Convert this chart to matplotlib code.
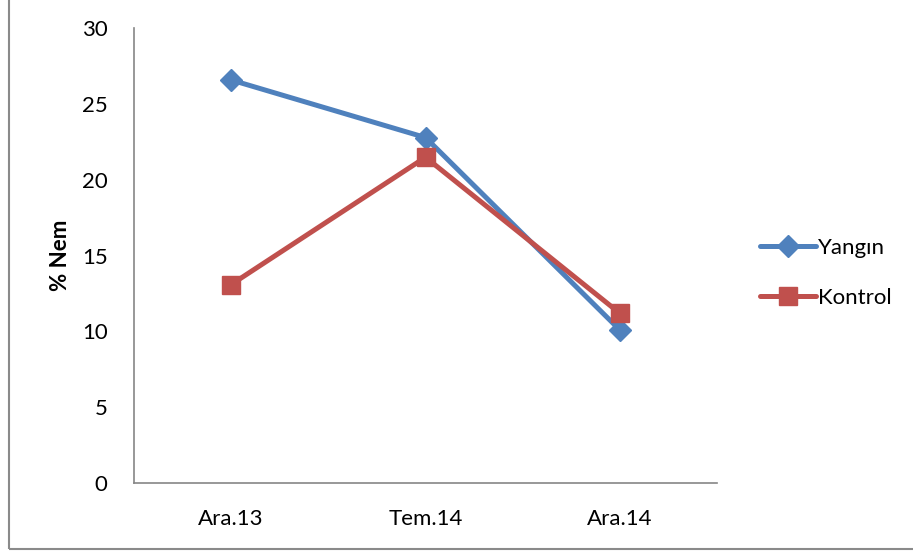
import matplotlib
matplotlib.use("Agg")
import matplotlib.pyplot as plt
from matplotlib.patches import Rectangle

plt.rcParams['font.family'] = ['Lato', 'DejaVu Sans']

categories = ["Ara.13", "Tem.14", "Ara.14"]
yangin = [26.6, 22.8, 10.1]
kontrol = [13.1, 21.5, 11.2]
yticks = [0, 5, 10, 15, 20, 25, 30]

fig = plt.figure(figsize=(9.13, 5.54), dpi=100)
ax = fig.add_axes([0.1468, 0.1282, 0.6385, 0.8204])

x = list(range(len(categories)))
ax.plot(x, yangin, color="#4F81BD", lw=3.6, marker="D", ms=11,
        solid_joinstyle="round", solid_capstyle="round", label="Yangın")
ax.plot(x, kontrol, color="#C0504D", lw=3.6, marker="s", ms=12.5,
        solid_joinstyle="round", solid_capstyle="round", label="Kontrol")

ax.set_xlim(-0.5, len(categories) - 0.5)
ax.set_ylim(0, 30)
ax.set_xticks(x)
ax.set_xticklabels(categories)
ax.set_yticks(yticks)
ax.tick_params(axis="both", length=0, labelsize=16)
ax.tick_params(axis="y", pad=19)
ax.tick_params(axis="x", pad=19)

for side in ["top", "right"]:
    ax.spines[side].set_visible(False)
for side in ["left", "bottom"]:
    ax.spines[side].set_color("#868686")
    ax.spines[side].set_linewidth(1.2)

ax.set_ylabel("% Nem", fontsize=16, fontweight="bold", labelpad=8)

leg = ax.legend(loc="center left", bbox_to_anchor=(1.04, 0.462), frameon=False,
                fontsize=16, handlelength=2.5, labelspacing=1.35, handletextpad=0.1)

# chart area frame
fig.patches.append(Rectangle((8.5 / 913, 5 / 554), 1.2, 1.2, transform=fig.transFigure,
                             fill=False, edgecolor="#8a8a8a", lw=1.5))

fig.savefig("out.png", dpi=100)
